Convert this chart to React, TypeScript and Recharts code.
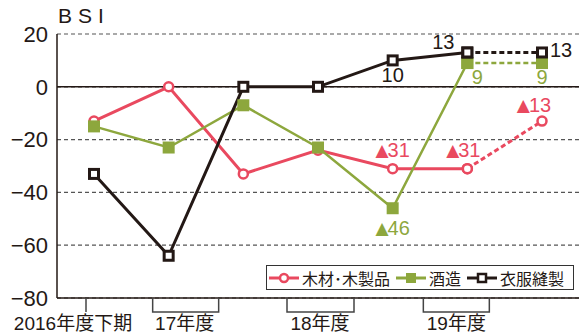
import React from 'react';
import { LineChart, Line, XAxis, YAxis, CartesianGrid, ReferenceLine, LabelList } from 'recharts';

// half-year periods, last one is the forecast
const periods = ['16下', '17上', '17下', '18上', '18下', '19上', '19下'];
const fiscalLabels = ['2016年度下期', '17年度', '', '18年度', '', '19年度', ''];
const wood = [-13, 0, -33, -24, -31, -31, -13];
const sake = [-15, -23, -7, -23, -46, 9, 9];
const clothing = [-33, -64, 0, 0, 10, 13, 13];
const woodNotes = ['', '', '', '', '▲31', '▲31', '▲13'];
const sakeNotes = ['', '', '', '', '▲46', '9', '9'];
const clothingNotes = ['', '', '', '', '10', '13', '13'];
const yTicks = [20, 0, -20, -40, -60, -80];

const RED = '#E9495F';
const GREEN = '#8DA73D';
const BLACK = '#231815';
const FONT = "'Liberation Sans', 'Noto Sans CJK JP', sans-serif";
const CJK = "'Liberation Sans', 'Noto Sans CJK JP', sans-serif";

const lastActual = 5;
const data = periods.map((p, i) => ({
  period: p,
  woodA: i <= lastActual ? wood[i] : null,
  woodF: i >= lastActual ? wood[i] : null,
  woodAll: wood[i],
  woodNote: woodNotes[i],
  sakeA: i <= lastActual ? sake[i] : null,
  sakeF: i >= lastActual ? sake[i] : null,
  sakeAll: sake[i],
  sakeNote: sakeNotes[i],
  clothA: i <= lastActual ? clothing[i] : null,
  clothF: i >= lastActual ? clothing[i] : null,
  clothAll: clothing[i],
  clothNote: clothingNotes[i],
}));

// label offsets (dx, dy) from the point
const notePlace: Record<string, Record<number, [number, number]>> = {
  wood: { 4: [0, -19], 5: [-4, -19], 6: [-8, -16] },
  sake: { 4: [0, 20], 5: [10, 14], 6: [0, 14] },
  cloth: { 4: [0, 15], 5: [-24, -10], 6: [19, -2] },
};

// fiscal-year brackets under the axis
const periodMarks: Record<number, { tick?: number; bracket?: [number, number]; dx: number }> = {
  0: { tick: -8, dx: -21 },
  1: { bracket: [-16, 50], dx: 16 },
  3: { bracket: [-31, 36], dx: 2 },
  5: { bracket: [-44, 22], dx: -11 },
};

const PeriodTick = (props: any) => {
  const { x, y, index } = props;
  const m = periodMarks[index];
  if (!m) return <g />;
  return (
    <g>
      {m.tick !== undefined && (
        <line x1={x + m.tick} x2={x + m.tick} y1={y} y2={y + 14} stroke="#444" strokeWidth={1.5} />
      )}
      {m.bracket && (
        <polyline
          points={`${x + m.bracket[0]},${y} ${x + m.bracket[0]},${y + 14} ${x + m.bracket[1]},${y + 14} ${x + m.bracket[1]},${y}`}
          fill="none"
          stroke="#444"
          strokeWidth={1.5}
        />
      )}
      <text x={x + m.dx} y={y + 32} textAnchor="middle" fontSize={19} fill={BLACK} fontFamily={CJK}>
        {fiscalLabels[index]}
      </text>
    </g>
  );
};

const circleDot = (props: any) => {
  const { cx, cy, index } = props;
  if (cx == null || cy == null) return <g key={`c${index}`} />;
  return <circle key={`c${index}`} cx={cx} cy={cy} r={4.5} fill="#fff" stroke={RED} strokeWidth={2.5} />;
};
const filledSquare = (props: any) => {
  const { cx, cy, index } = props;
  if (cx == null || cy == null) return <g key={`s${index}`} />;
  return <rect key={`s${index}`} x={cx - 6} y={cy - 6} width={12} height={12} fill={GREEN} />;
};
const hollowSquare = (props: any) => {
  const { cx, cy, index } = props;
  if (cx == null || cy == null) return <g key={`h${index}`} />;
  return <rect key={`h${index}`} x={cx - 4.5} y={cy - 4.5} width={9} height={9} fill="#fff" stroke={BLACK} strokeWidth={3} />;
};

const noteLabel = (key: string, color: string) => (props: any) => {
  const { x, y, value, index } = props;
  if (!value || x == null) return null;
  const [dx, dy] = notePlace[key][index] || [0, 0];
  const tri = String(value).startsWith('▲');
  return (
    <text x={x + dx} y={y + dy} textAnchor="middle" dominantBaseline="central" fontSize={20} fill={color} fontFamily={FONT}>
      {tri ? (
        <>
          <tspan fontFamily="'DejaVu Sans', sans-serif" fontSize={17}>▲</tspan>
          <tspan dx={-1}>{String(value).slice(1)}</tspan>
        </>
      ) : (
        value
      )}
    </text>
  );
};

const legendItems = [
  { name: '木材･木製品', color: RED, mark: 'circle' },
  { name: '酒造', color: GREEN, mark: 'filled' },
  { name: '衣服縫製', color: BLACK, mark: 'hollow' },
];

const LegendBox = () => (
  <div
    style={{
      position: 'absolute',
      left: 266,
      top: 265,
      width: 304,
      height: 23,
      border: '1.5px solid #333',
      background: '#fff',
      display: 'flex',
      alignItems: 'center',
      fontFamily: "'Noto Sans CJK JP', sans-serif",
      fontSize: 16,
      color: BLACK,
      paddingLeft: 2,
    }}
  >
    {legendItems.map((it) => (
      <div key={it.name} style={{ display: 'flex', alignItems: 'center', marginRight: 6 }}>
        <svg width={30} height={14}>
          <line x1={0} x2={30} y1={7} y2={7} stroke={it.color} strokeWidth={3} />
          {it.mark === 'circle' && <circle cx={15} cy={7} r={4} fill="#fff" stroke={it.color} strokeWidth={2.5} />}
          {it.mark === 'filled' && <rect x={10} y={2} width={10} height={10} fill={it.color} />}
          {it.mark === 'hollow' && <rect x={11} y={3} width={8} height={8} fill="#fff" stroke={it.color} strokeWidth={2.5} />}
        </svg>
        <span style={{ marginLeft: 3, lineHeight: '20px' }}>{it.name}</span>
      </div>
    ))}
  </div>
);

export default function App() {
  return (
    <div style={{ position: 'absolute', left: 0, top: 0, width: 579, height: 332, background: '#fff', overflow: 'hidden' }}>
      <div style={{ position: 'absolute', left: 58, top: 4, fontFamily: "'Liberation Sans', sans-serif", fontSize: 21, letterSpacing: 6, color: BLACK }}>
        BSI
      </div>
      <LineChart width={579} height={332} data={data} margin={{ top: 34, right: 0, bottom: 0, left: 0 }}>
        <CartesianGrid vertical={false} stroke="#555" strokeDasharray="4 3" strokeWidth={1.2} />
        <ReferenceLine y={0} stroke={BLACK} strokeWidth={1.5} />
        <XAxis
          dataKey="period"
          height={34}
          interval={0}
          padding={{ left: 37, right: 37 }}
          tickLine={false}
          tickSize={0}
          tickMargin={0}
          axisLine={{ stroke: BLACK, strokeWidth: 1.5 }}
          tick={<PeriodTick />}
        />
        <YAxis
          width={57}
          domain={[-80, 20]}
          ticks={yTicks}
          tickLine={false}
          tickSize={0}
          tickMargin={9}
          axisLine={{ stroke: BLACK, strokeWidth: 1.5 }}
          tick={{ fontSize: 22, fill: BLACK, fontFamily: FONT }}
          tickFormatter={(v: number) => (v < 0 ? `−${Math.abs(v)}` : `${v}`)}
        />
        <Line dataKey="woodA" stroke={RED} strokeWidth={3} dot={circleDot} isAnimationActive={false} />
        <Line dataKey="woodF" stroke={RED} strokeWidth={3} strokeDasharray="5 3" dot={circleDot} isAnimationActive={false} />
        <Line dataKey="sakeA" stroke={GREEN} strokeWidth={2.5} dot={filledSquare} isAnimationActive={false} />
        <Line dataKey="sakeF" stroke={GREEN} strokeWidth={2.5} strokeDasharray="5 3" dot={filledSquare} isAnimationActive={false} />
        <Line dataKey="clothA" stroke={BLACK} strokeWidth={3} dot={hollowSquare} isAnimationActive={false} />
        <Line dataKey="clothF" stroke={BLACK} strokeWidth={3} strokeDasharray="5 3" dot={hollowSquare} isAnimationActive={false} />
        <Line dataKey="woodAll" stroke="none" dot={false} activeDot={false} isAnimationActive={false}>
          <LabelList dataKey="woodNote" content={noteLabel('wood', RED)} />
        </Line>
        <Line dataKey="sakeAll" stroke="none" dot={false} activeDot={false} isAnimationActive={false}>
          <LabelList dataKey="sakeNote" content={noteLabel('sake', GREEN)} />
        </Line>
        <Line dataKey="clothAll" stroke="none" dot={false} activeDot={false} isAnimationActive={false}>
          <LabelList dataKey="clothNote" content={noteLabel('cloth', BLACK)} />
        </Line>
      </LineChart>
      <LegendBox />
    </div>
  );
}
